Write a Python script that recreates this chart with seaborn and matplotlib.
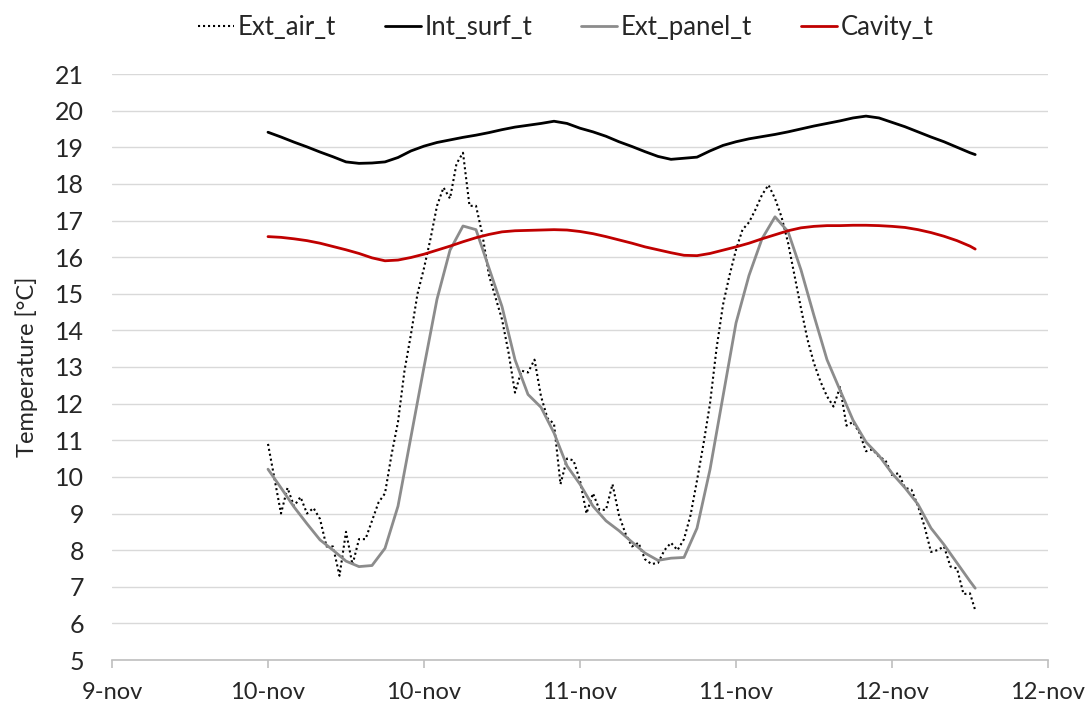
import numpy as np
import pandas as pd
import matplotlib
matplotlib.use("Agg")
import matplotlib.pyplot as plt
import seaborn as sns

# ---- data (hours since 10-nov 00:00) ----
hours = list(range(0, 55)) + [54.4]
air_hours = [k * 0.5 for k in range(0, 109)] + [54.4]

int_surf = [19.41, 19.28, 19.14, 19.01, 18.87, 18.74, 18.60, 18.56, 18.57, 18.60,
            18.72, 18.90, 19.03, 19.13, 19.20, 19.27, 19.33, 19.40, 19.48, 19.55,
            19.60, 19.65, 19.71, 19.65, 19.52, 19.42, 19.30, 19.15, 19.02, 18.88,
            18.75, 18.67, 18.70, 18.73, 18.90, 19.05, 19.15, 19.23, 19.29, 19.35,
            19.42, 19.50, 19.58, 19.65, 19.72, 19.80, 19.85, 19.80, 19.68, 19.56,
            19.42, 19.28, 19.15, 19.00, 18.85, 18.80]

cavity = [16.56, 16.54, 16.50, 16.45, 16.38, 16.29, 16.20, 16.10, 15.98, 15.90,
          15.92, 15.99, 16.08, 16.19, 16.30, 16.42, 16.53, 16.62, 16.69, 16.72,
          16.73, 16.74, 16.75, 16.74, 16.70, 16.64, 16.56, 16.47, 16.38, 16.28,
          16.20, 16.12, 16.05, 16.04, 16.10, 16.19, 16.28, 16.38, 16.50, 16.61,
          16.72, 16.80, 16.84, 16.86, 16.86, 16.87, 16.87, 16.86, 16.84, 16.81,
          16.75, 16.67, 16.57, 16.45, 16.30, 16.22]

ext_panel = [10.21, 9.70, 9.18, 8.72, 8.28, 8.00, 7.70, 7.55, 7.58, 8.05,
             9.20, 11.10, 13.00, 14.85, 16.19, 16.85, 16.75, 15.70, 14.65, 13.20,
             12.25, 11.90, 11.20, 10.30, 9.80, 9.20, 8.80, 8.53, 8.22, 7.92,
             7.72, 7.78, 7.80, 8.60, 10.20, 12.20, 14.20, 15.50, 16.50, 17.10,
             16.70, 15.65, 14.40, 13.20, 12.37, 11.55, 10.95, 10.58, 10.10, 9.70,
             9.25, 8.60, 8.15, 7.65, 7.15, 6.96]

ext_air = [10.90, 9.95, 9.00, 9.70, 9.20, 9.45, 9.00, 9.15, 8.85, 8.10,
           8.10, 7.30, 8.50, 7.60, 8.30, 8.30, 8.80, 9.30, 9.55, 10.60,
           11.50, 12.90, 13.90, 15.00, 15.70, 16.50, 17.40, 17.90, 17.60, 18.55,
           18.85, 17.40, 17.40, 16.60, 15.50, 14.90, 14.30, 13.40, 12.30, 12.90,
           12.85, 13.20, 12.20, 11.60, 11.45, 9.80, 10.50, 10.45, 9.90, 9.00,
           9.55, 9.10, 9.10, 9.80, 8.95, 8.45, 8.10, 8.20, 7.75, 7.62,
           7.65, 8.00, 8.20, 8.00, 8.30, 8.95, 9.90, 10.90, 12.00, 13.50,
           14.70, 15.50, 16.20, 16.75, 16.95, 17.30, 17.70, 17.97, 17.60, 17.10,
           16.40, 15.50, 14.60, 13.75, 13.10, 12.60, 12.20, 11.92, 12.45, 11.40,
           11.50, 11.20, 10.70, 10.75, 10.55, 10.45, 10.05, 10.10, 9.70, 9.65,
           9.20, 8.65, 7.95, 8.00, 8.10, 7.55, 7.50, 6.80, 6.82, 6.36]

tick_hours = [-12, 0, 12, 24, 36, 48, 60]
tick_labels = ["9-nov", "10-nov", "10-nov", "11-nov", "11-nov", "12-nov", "12-nov"]
y_ticks = list(range(5, 22))

df_hourly = pd.DataFrame({"h": hours, "Int_surf_t": int_surf,
                          "Ext_panel_t": ext_panel, "Cavity_t": cavity})
df_air = pd.DataFrame({"h": air_hours, "Ext_air_t": ext_air})

# ---- plot ----
sns.set_theme(style="white")
plt.rcParams["font.family"] = ["Lato", "DejaVu Sans"]

fig = plt.figure(figsize=(10.88, 7.04), dpi=100)
ax = fig.add_axes([112 / 1088, 1 - 660 / 704, (1048 - 112) / 1088, (660 - 74) / 704])

ax.set_axisbelow(True)
ax.yaxis.grid(True, color="#D9D9D9", linewidth=1.0)
ax.xaxis.grid(False)

sns.lineplot(data=df_air, x="h", y="Ext_air_t", ax=ax, color="black",
             linewidth=1.5, linestyle=(0, (1, 1.4)), label="Ext_air_t")
sns.lineplot(data=df_hourly, x="h", y="Int_surf_t", ax=ax, color="black",
             linewidth=2.0, label="Int_surf_t")
sns.lineplot(data=df_hourly, x="h", y="Ext_panel_t", ax=ax, color="#8C8C8C",
             linewidth=2.0, label="Ext_panel_t")
sns.lineplot(data=df_hourly, x="h", y="Cavity_t", ax=ax, color="#C00000",
             linewidth=2.0, label="Cavity_t")

ax.set_xlim(-12, 60)
ax.set_ylim(5, 21)
ax.set_xticks(tick_hours)
ax.set_xticklabels(tick_labels)
ax.set_yticks(y_ticks)
ax.set_xlabel("")
ax.set_ylabel("Temperature [°C]", fontsize=17, labelpad=12)

for s in ["left", "right", "top"]:
    ax.spines[s].set_visible(False)
ax.spines["bottom"].set_color("#BFBFBF")
ax.spines["bottom"].set_linewidth(1.2)
ax.tick_params(axis="x", which="major", direction="out", length=6, width=1.2,
               color="#BFBFBF", labelsize=17, pad=10, bottom=True)
ax.tick_params(axis="y", length=0, labelsize=18, pad=20)

handles, labels = ax.get_legend_handles_labels()
ax.get_legend().remove()
fig.legend(handles, labels, loc="upper center", bbox_to_anchor=(0.52, 1.012),
           ncol=4, frameon=False, fontsize=18.5, handlelength=1.4,
           handletextpad=0.15, columnspacing=1.9)

fig.savefig("out.png", dpi=100)
